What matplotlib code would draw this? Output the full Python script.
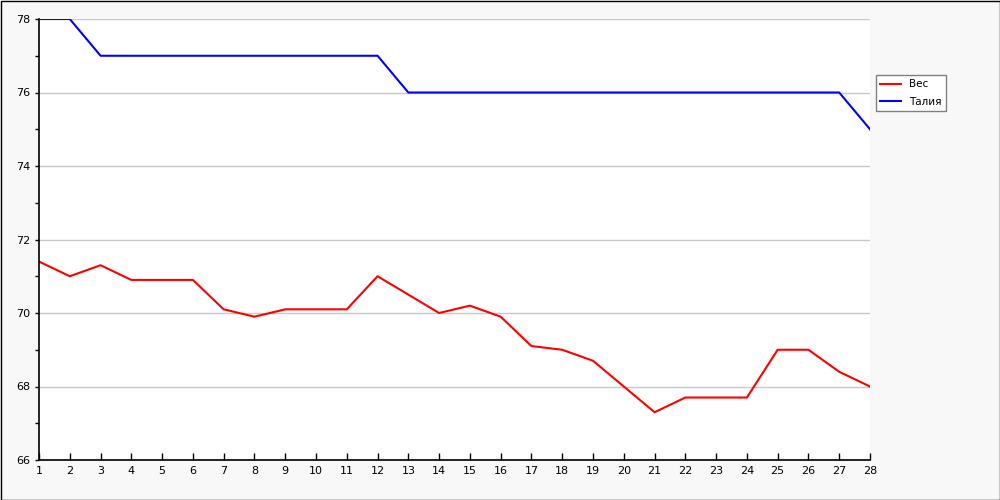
import numpy as np
import matplotlib.pyplot as plt
from matplotlib.patches import Rectangle
from matplotlib.ticker import MultipleLocator

# Data
days = list(range(1, 29))
ves = [71.4, 71.0, 71.3, 70.9, 70.9, 70.9, 70.1, 69.9, 70.1, 70.1,
       70.1, 71.0, 70.5, 70.0, 70.2, 69.9, 69.1, 69.0, 68.7, 68.0,
       67.3, 67.7, 67.7, 67.7, 69.0, 69.0, 68.4, 68.0]
taliya = [78, 78, 77, 77, 77, 77, 77, 77, 77, 77,
          77, 77, 76, 76, 76, 76, 76, 76, 76, 76,
          76, 76, 76, 76, 76, 76, 76, 75]

fig = plt.figure(figsize=(10, 5), dpi=100)
fig.patch.set_facecolor("#f8f8f8")
fig.patches.append(Rectangle((0.0005, 0.001), 0.999, 0.998, transform=fig.transFigure,
                             fill=False, edgecolor="black", linewidth=1.0))

ax = fig.add_axes([0.039, 0.08, 0.831, 0.882])
ax.set_facecolor("white")

ax.plot(days, ves, color="#ff0000", linewidth=1.5, label="Вес")
ax.plot(days, taliya, color="#0000ff", linewidth=1.5, label="Талия")

ax.set_xlim(1, 28)
ax.set_ylim(66, 78)
ax.set_xticks(days)
ax.yaxis.set_major_locator(MultipleLocator(2))
ax.yaxis.set_minor_locator(MultipleLocator(1))

ax.grid(True, axis="y", color="#c8c8c8", linewidth=1)
ax.set_axisbelow(True)

for side in ["top", "right"]:
    ax.spines[side].set_visible(False)
for side in ["left", "bottom"]:
    ax.spines[side].set_linewidth(1.2)

ax.tick_params(axis="x", direction="in", length=5, width=1, labelsize=8, pad=4)
ax.tick_params(axis="y", which="major", direction="out", length=3, width=1,
               labelsize=8, pad=3)
ax.tick_params(axis="y", which="minor", direction="out", length=3, width=1)

ax.legend(loc="upper left", bbox_to_anchor=(1.007, 0.873), borderaxespad=0,
          fontsize=7.5, frameon=True, fancybox=False, edgecolor="#808080",
          framealpha=1, handlelength=2.0, handletextpad=0.8, borderpad=0.4,
          labelspacing=0.75)

fig.savefig("out.png", dpi=100, facecolor=fig.get_facecolor())
